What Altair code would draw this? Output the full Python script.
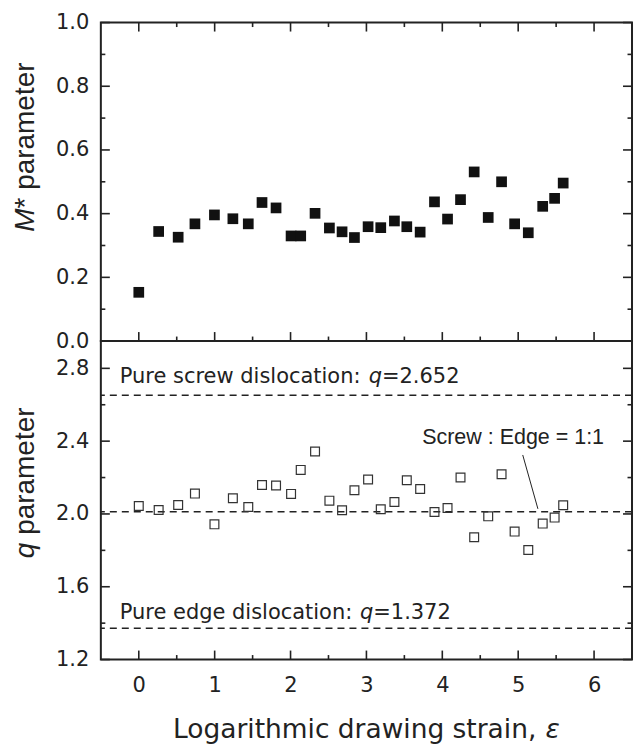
import altair as alt
import pandas as pd

# ---------------- data ----------------
strain = [0.000, 0.262, 0.519, 0.740, 0.997, 1.240, 1.443, 1.624, 1.809, 2.007,
          2.134, 2.323, 2.512, 2.679, 2.842, 3.022, 3.189, 3.369, 3.532, 3.708,
          3.897, 4.069, 4.240, 4.420, 4.605, 4.781, 4.953, 5.133, 5.323, 5.480, 5.593]
m_star = [0.153, 0.344, 0.326, 0.368, 0.396, 0.384, 0.368, 0.435, 0.418, 0.330,
          0.330, 0.401, 0.355, 0.343, 0.325, 0.359, 0.356, 0.377, 0.359, 0.342,
          0.437, 0.383, 0.444, 0.531, 0.388, 0.500, 0.368, 0.340, 0.423, 0.448, 0.496]
q_vals = [2.044, 2.022, 2.049, 2.112, 1.943, 2.086, 2.038, 2.159, 2.156, 2.110,
          2.242, 2.343, 2.073, 2.020, 2.130, 2.189, 2.026, 2.066, 2.185, 2.137,
          2.011, 2.033, 2.200, 1.872, 1.987, 2.218, 1.903, 1.802, 1.947, 1.980, 2.048]
ref_q = [2.652, 2.012, 1.372]

x_major = [0, 1, 2, 3, 4, 5, 6]
x_minor = [0.5, 1.5, 2.5, 3.5, 4.5, 5.5]
m_major = [0.0, 0.2, 0.4, 0.6, 0.8, 1.0]
m_minor = [0.1, 0.3, 0.5, 0.7, 0.9]
q_major = [1.2, 1.6, 2.0, 2.4, 2.8]
q_minor = [1.4, 1.8, 2.2, 2.6]

screw_text = ["Pure screw dislocation:", "q", "=2.652"]
screw_pos = [-0.251, 2.72]
edge_text = ["Pure edge dislocation:", "q", "=1.372"]
edge_pos = [-0.251, 1.4215]
ratio_text = ["Screw : Edge = 1:1"]
ratio_pos = [4.933, 2.386]
leader = [5.06, 2.324, 5.26, 2.028]
x_title = ["Logarithmic drawing strain,", "\u03b5"]
m_title = ["M", "* parameter"]
q_title = ["q", "parameter"]

# ---------------- styling ----------------
W, H1, H2 = 532, 319, 319
INK = "#222222"
FH = "DejaVu Sans"
FV = "Liberation Sans"
MAJ, MIN = 9, 4.5

xs = alt.Scale(domain=[-0.5, 6.5], nice=False, zero=False)
ys_top = alt.Scale(domain=[0.0, 1.0], nice=False, zero=False)
ys_bot = alt.Scale(domain=[1.2, 2.95], nice=False, zero=False)


def yaxis(values):
    return alt.Axis(values=values, format=".1f", title=None, ticks=False, domain=False,
                    grid=False, labelFont=FH, labelFontSize=21, labelColor=INK,
                    labelPadding=12, labelFlush=False)


XAX = alt.Axis(values=x_major, format="d", title=None, ticks=False, domain=False,
               grid=False, labelFont=FH, labelFontSize=21, labelColor=INK,
               labelPadding=15, labelFlush=False)
YAX_TOP = yaxis(m_major)
YAX_BOT = yaxis(q_major)


def y_ticks(values, scale, yax, length):
    df = pd.DataFrame({"v": values})
    base = alt.Chart(df).mark_rule(color=INK, strokeWidth=1.6)
    left = base.encode(y=alt.Y("v:Q", scale=scale, axis=yax),
                       x=alt.value(0), x2=alt.value(length))
    right = base.encode(y=alt.Y("v:Q", scale=scale, axis=yax),
                        x=alt.value(W), x2=alt.value(W - length))
    return [left, right]


def x_ticks(values, xax, length, H, top=True, bottom=True):
    df = pd.DataFrame({"v": values})
    base = alt.Chart(df).mark_rule(color=INK, strokeWidth=1.6)
    out = []
    if top:
        out.append(base.encode(x=alt.X("v:Q", scale=xs, axis=xax),
                               y=alt.value(0), y2=alt.value(length)))
    if bottom:
        out.append(base.encode(x=alt.X("v:Q", scale=xs, axis=xax),
                               y=alt.value(H), y2=alt.value(H - length)))
    return out


def vtitle(txt, ypix, italic):
    return alt.Chart(pd.DataFrame({"t": [txt]})).mark_text(
        font=FV, fontSize=28, fontStyle="italic" if italic else "normal", angle=270,
        align="left", baseline="alphabetic", color=INK).encode(
        text="t:N", x=alt.value(-67), y=alt.value(ypix))


# ---------------- top panel ----------------
top_df = pd.DataFrame({"strain": strain, "m": m_star})
top_pts = alt.Chart(top_df).mark_point(shape="square", filled=True, size=115,
                                        color="#111111", opacity=1).encode(
    x=alt.X("strain:Q", scale=xs, axis=None),
    y=alt.Y("m:Q", scale=ys_top, axis=YAX_TOP),
)

top_layers = [top_pts]
top_layers += y_ticks(m_major, ys_top, YAX_TOP, MAJ) + y_ticks(m_minor, ys_top, YAX_TOP, MIN)
top_layers += x_ticks(x_major, None, MAJ, H1) + x_ticks(x_minor, None, MIN, H1)
top_layers += [vtitle(m_title[0], 209.5, True), vtitle(m_title[1], 209.5 - 23.3, False)]
top = alt.layer(*top_layers).properties(width=W, height=H1)

# ---------------- bottom panel ----------------
bot_df = pd.DataFrame({"strain": strain, "q": q_vals})
bot_pts = alt.Chart(bot_df).mark_point(shape="square", filled=False, size=78,
                                        color="#333333", strokeWidth=1.2, opacity=1).encode(
    x=alt.X("strain:Q", scale=xs, axis=XAX),
    y=alt.Y("q:Q", scale=ys_bot, axis=YAX_BOT),
)

ref_df = pd.DataFrame({"q": ref_q})
ref_lines = alt.Chart(ref_df).mark_rule(color=INK, strokeWidth=1.5, strokeDash=[7, 5]).encode(
    y=alt.Y("q:Q", scale=ys_bot, axis=YAX_BOT))


def composite(parts, pos, offsets, size=21):
    layers = []
    for txt, off in zip(parts, offsets):
        df = pd.DataFrame({"x": [pos[0]], "y": [pos[1]], "t": [txt]})
        italic = txt == "q"
        layers.append(alt.Chart(df).mark_text(
            font=FH, fontSize=size, fontStyle="italic" if italic else "normal",
            align="left", baseline="alphabetic", dx=off, color=INK).encode(
            x=alt.X("x:Q", scale=xs, axis=XAX),
            y=alt.Y("y:Q", scale=ys_bot, axis=YAX_BOT), text="t:N"))
    return layers


screw_layers = composite(screw_text, screw_pos, [0, 249.3, 262.6])
edge_layers = composite(edge_text, edge_pos, [0, 240.6, 253.9])

ratio_df = pd.DataFrame({"x": [ratio_pos[0]], "y": [ratio_pos[1]], "t": ratio_text})
ratio_lbl = alt.Chart(ratio_df).mark_text(font=FV, fontSize=21.5, align="center",
                                          baseline="alphabetic", color=INK).encode(
    x=alt.X("x:Q", scale=xs, axis=XAX), y=alt.Y("y:Q", scale=ys_bot, axis=YAX_BOT),
    text="t:N")

lead_df = pd.DataFrame({"x": [leader[0]], "y": [leader[1]], "x2": [leader[2]], "y2": [leader[3]]})
lead = alt.Chart(lead_df).mark_rule(color=INK, strokeWidth=1).encode(
    x=alt.X("x:Q", scale=xs, axis=XAX), y=alt.Y("y:Q", scale=ys_bot, axis=YAX_BOT),
    x2="x2:Q", y2="y2:Q")

xt1 = alt.Chart(pd.DataFrame({"t": [x_title[0]]})).mark_text(
    font=FH, fontSize=26.5, align="left", baseline="alphabetic", color=INK).encode(
    text="t:N", x=alt.value(72.3), y=alt.value(397.2))
xt2 = alt.Chart(pd.DataFrame({"t": [x_title[1]]})).mark_text(
    font=FH, fontSize=26.5, fontStyle="italic", align="left", baseline="alphabetic",
    color=INK).encode(text="t:N", x=alt.value(72.3 + 373.1), y=alt.value(397.2))

bot_layers = [ref_lines, bot_pts]
bot_layers += y_ticks(q_major, ys_bot, YAX_BOT, MAJ) + y_ticks(q_minor, ys_bot, YAX_BOT, MIN)
bot_layers += x_ticks(x_major, XAX, MAJ, H2, top=False) + x_ticks(x_minor, XAX, MIN, H2, top=False)
bot_layers += screw_layers + edge_layers + [ratio_lbl, lead]
bot_layers += [vtitle(q_title[0], 217.5, True), vtitle(q_title[1], 217.5 - 23.4, False), xt1, xt2]
bottom = alt.layer(*bot_layers).properties(width=W, height=H2)

chart = alt.vconcat(top, bottom, spacing=0, bounds="flush").properties(
    padding={"left": 10, "top": 10, "right": 4, "bottom": 0}
).configure_view(stroke=INK, strokeWidth=2).configure_axis(grid=False)

chart.save("out.html", embed_options={"renderer": "svg", "actions": False})
